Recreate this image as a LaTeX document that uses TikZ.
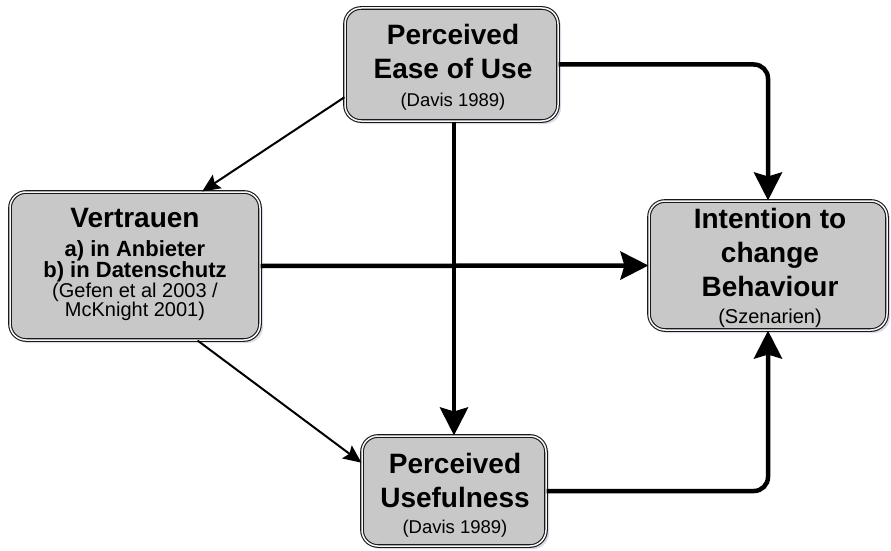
\documentclass[tikz,border=0pt]{standalone}
\usepackage{fontspec}
\setmainfont{Liberation Sans}
\usetikzlibrary{arrows.meta,shadows,calc}
\definecolor{boxgray}{RGB}{200,200,200}
\definecolor{shadowc}{RGB}{150,150,195}
\begin{document}
\begin{tikzpicture}[x=1pt,y=-1pt,
  box/.style={rectangle, rounded corners=16pt, draw=black!90, line width=1.1pt,
    double=white!85!boxgray, double distance=1.5pt, fill=boxgray, inner sep=0pt,
    drop shadow={shadow xshift=3pt, shadow yshift=-3pt, fill=shadowc, opacity=0.35}},
  ttl/.style={anchor=base, inner sep=0pt, font=\fontsize{28}{32}\selectfont\bfseries},
  mid/.style={anchor=base, inner sep=0pt, font=\fontsize{22}{24}\selectfont\bfseries},
  cite/.style={anchor=base, inner sep=0pt, font=\fontsize{20}{22}\selectfont},
  citesm/.style={anchor=base, inner sep=0pt, font=\fontsize{18.5}{20}\selectfont},
  thickarrow/.style={line width=4.5pt, rounded corners=14pt,
    -{Stealth[length=28pt,width=28pt,inset=4pt]}},
  thinarrow/.style={line width=2pt, -{Stealth[length=18pt,width=16pt,inset=3pt]}}
]
\useasboundingbox (0,0) rectangle (891,551);

% boxes
\node[box, minimum width=213pt, minimum height=113pt] (peou) at (451.5,64.5) {};
\node[box, minimum width=250pt, minimum height=148pt] (vert) at (135,266) {};
\node[box, minimum width=238pt, minimum height=129pt] (int) at (768,265.5) {};
\node[box, minimum width=184pt, minimum height=110pt] (pu) at (454,491) {};

% texts
\node[ttl] (peouA) at (453,45) {Perceived};
\node[ttl] (peouB) at (453,78) {Ease of Use};
\node[citesm] (peouC) at (453,106) {(Davis 1989)};

\node[ttl] (vertA) at (135,227) {Vertrauen};
\node[mid] (vertB) at (135,256) {a) in Anbieter};
\node[mid] (vertC) at (135,277) {b) in Datenschutz};
\node[cite] (vertD) at (135,297) {(Gefen et al 2003 /};
\node[cite] (vertE) at (135,316.5) {McKnight 2001)};

\node[ttl] (intA) at (770,228) {Intention to};
\node[ttl] (intB) at (770,262) {change};
\node[ttl] (intC) at (770,296) {Behaviour};
\node[cite] (intD) at (770,323) {(Szenarien)};

\node[ttl] (puA) at (455,473) {Perceived};
\node[ttl] (puB) at (455,507) {Usefulness};
\node[citesm] (puC) at (455,533) {(Davis 1989)};

% connectors
\draw[thinarrow] (peou.197) -- (vert.48.6);
\draw[thinarrow] (vert.310.5) -- (pu.163);
\draw[thickarrow] (peou.east) -| (int.north);
\draw[thickarrow] (peou.south -| pu.north) -- (pu.north);
\draw[thickarrow] (vert.east) -- (int.west);
\draw[thickarrow] (pu.east) -| (int.south);
\end{tikzpicture}
\end{document}
